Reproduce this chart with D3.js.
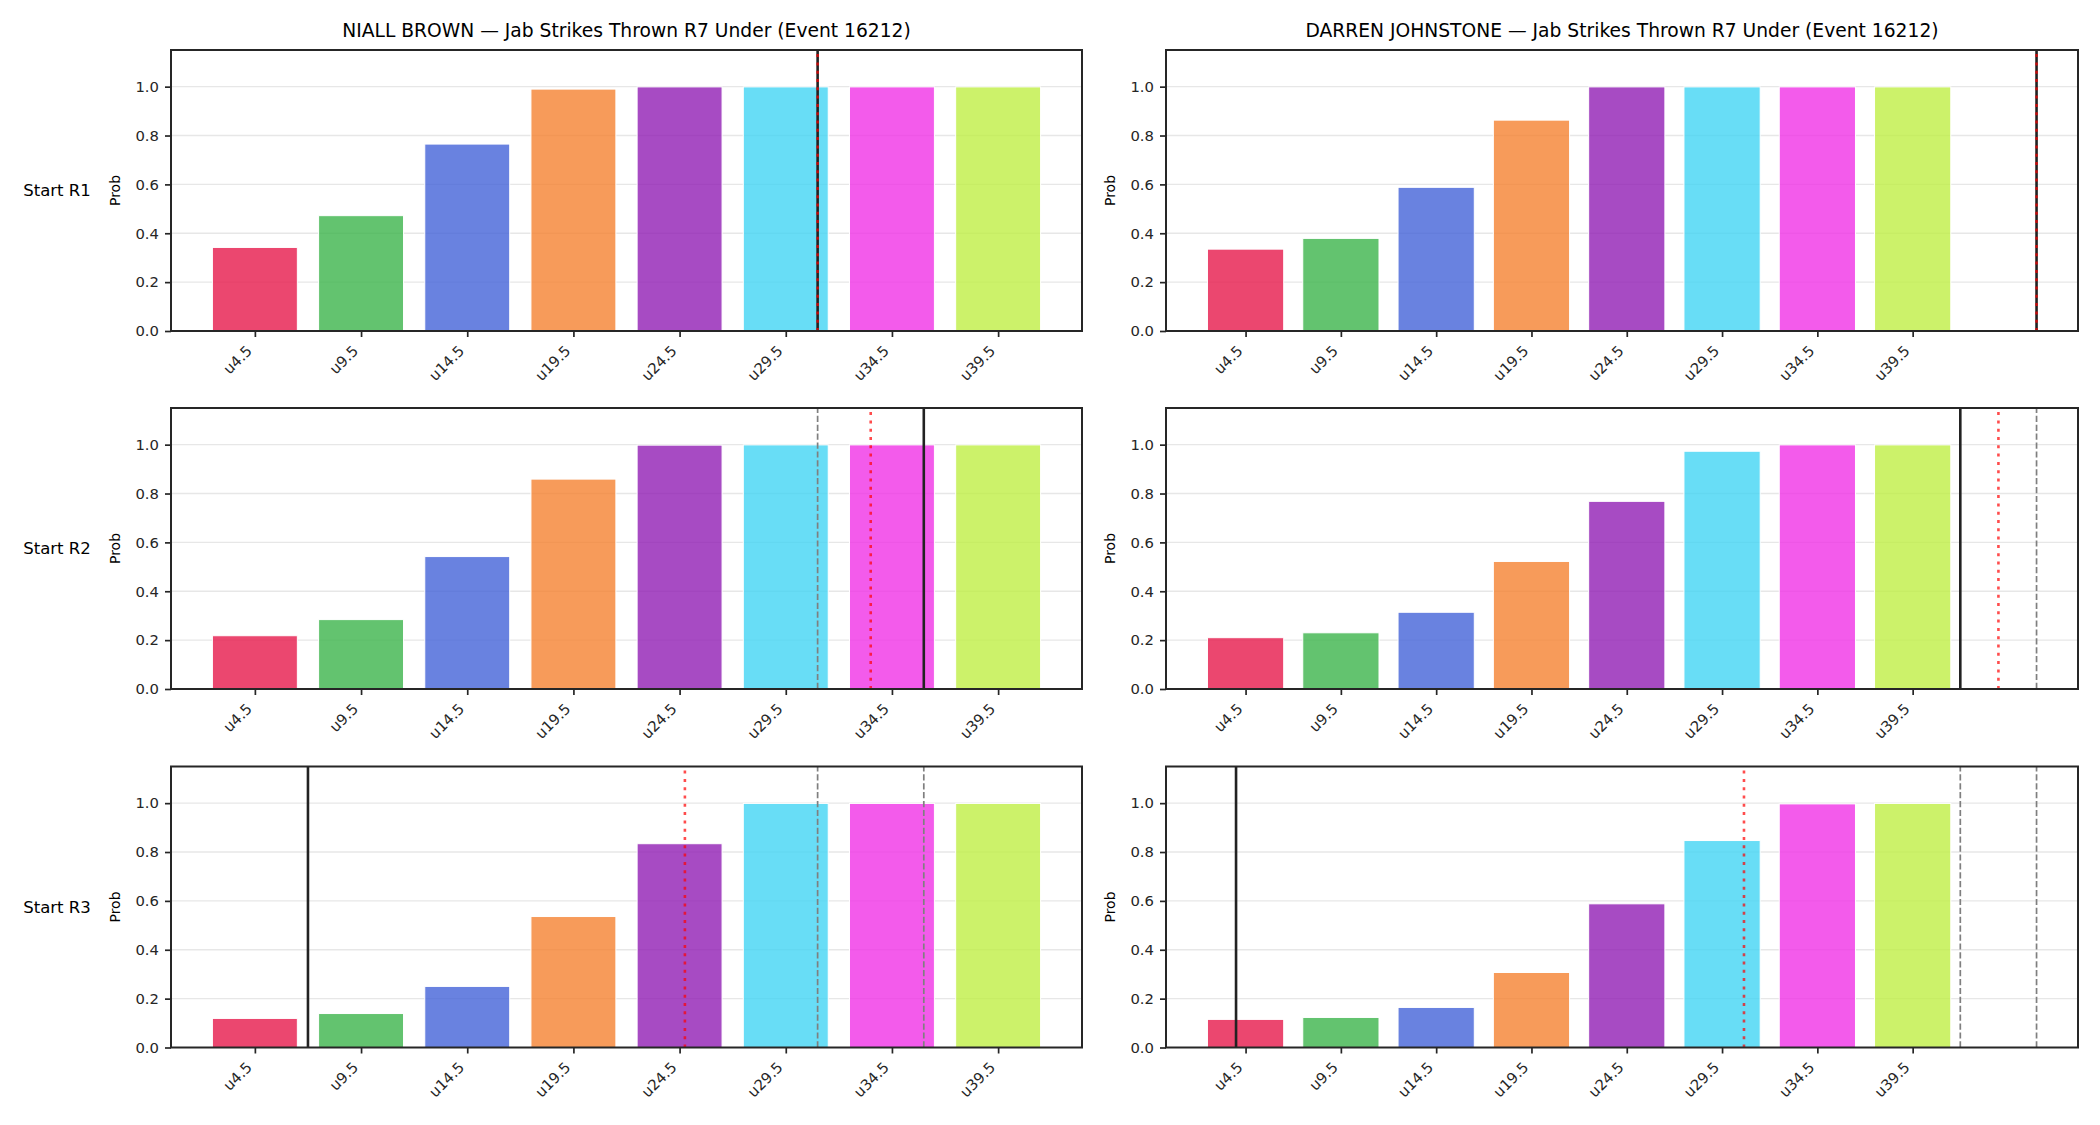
<!DOCTYPE html>
<html lang="en">
<head>
    <meta charset="UTF-8">
    <title>Jab Strikes Thrown R7 Under</title>
    <style>
        body { margin: 0; background: #fff; }
        text { font-family: 'DejaVu Sans', sans-serif; }
    </style>
</head>
<body>
    <svg id="svg" width="2100" height="1125"></svg>

    <script src="https://d3js.org/d3.v7.min.js"></script>
    <script>
        // data
        const thresholds = ['u4.5', 'u9.5', 'u14.5', 'u19.5', 'u24.5', 'u29.5', 'u34.5', 'u39.5']
        const thresholdValues = [4.5, 9.5, 14.5, 19.5, 24.5, 29.5, 34.5, 39.5]
        const fighters = ['NIALL BROWN', 'DARREN JOHNSTONE']
        const rounds = ['Start R1', 'Start R2', 'Start R3']
        const barColors = ['#e6194b', '#3cb44b', '#4363d8', '#f58231', '#911eb4', '#42d4f4', '#f032e6', '#bfef45']

        // P(under) for each start round
        const brownR1 = [0.342, 0.472, 0.765, 0.990, 0.999, 0.999, 0.999, 0.999]
        const brownR2 = [0.218, 0.284, 0.542, 0.859, 0.998, 0.999, 0.999, 0.999]
        const brownR3 = [0.119, 0.139, 0.250, 0.536, 0.834, 0.999, 0.999, 0.999]
        const johnstoneR1 = [0.335, 0.379, 0.588, 0.863, 0.999, 0.999, 0.999, 0.999]
        const johnstoneR2 = [0.210, 0.230, 0.314, 0.522, 0.768, 0.973, 0.999, 0.999]
        const johnstoneR3 = [0.115, 0.123, 0.164, 0.307, 0.588, 0.847, 0.997, 0.999]

        // reference lines (strike counts): solid = line at that start, dotted = projected mean
        const brownSolid = [31, 36, 7]
        const brownDotted = [31, 33.5, 24.75]
        const johnstoneSolid = [46, 42, 4]
        const johnstoneDotted = [46, 44, 30.65]

        const panels = [
            { fighter: 0, probs: [brownR1, brownR2, brownR3], solid: brownSolid, dotted: brownDotted },
            { fighter: 1, probs: [johnstoneR1, johnstoneR2, johnstoneR3], solid: johnstoneSolid, dotted: johnstoneDotted }
        ]

        // layout
        const colX = [[171, 1082], [1166, 2078]]
        const rowY = [50, 408, 766.5]
        const axH = 281
        const tickFont = 14.8

        const svg = d3.select('#svg')
        // strike count -> bar index position
        const countToIndex = d3.scaleLinear().domain([thresholdValues[0], thresholdValues[7]]).range([0, 7])

        panels.forEach((p, c) => {
            const [x0, x1] = colX[c]
            // column title
            svg.append('text')
                .text(`${fighters[p.fighter]} \u2014 Jab Strikes Thrown R7 Under (Event 16212)`)
                .attr('x', (x0 + x1) / 2)
                .attr('y', 37)
                .attr('text-anchor', 'middle')
                .style('font-size', '18.7px')
                .attr('fill', '#000')

            rounds.forEach((rLabel, r) => {
                const y0 = rowY[r]
                const probs = p.probs[r]
                const dashed = p.solid.slice(0, r)
                const lineIdx = [p.solid[r], p.dotted[r], ...dashed].map(countToIndex)
                const lo = Math.min(-0.4, ...lineIdx)
                const hi = Math.max(7.4, ...lineIdx)
                const pad = (hi - lo) * 0.05
                const xScale = d3.scaleLinear().domain([lo - pad, hi + pad]).range([x0, x1])
                const yScale = d3.scaleLinear().domain([0, 1.15]).range([y0 + axH, y0])
                const g = svg.append('g')

                // grid
                g.selectAll('line.grid')
                    .data([0.2, 0.4, 0.6, 0.8, 1.0])
                    .enter()
                    .append('line')
                    .attr('x1', x0).attr('x2', x1)
                    .attr('y1', d => yScale(d)).attr('y2', d => yScale(d))
                    .attr('stroke', '#b0b0b0')
                    .attr('stroke-opacity', 0.3)
                    .attr('stroke-width', 1.4)

                // bars
                g.selectAll('rect.bar')
                    .data(probs)
                    .enter()
                    .append('rect')
                    .attr('x', (d, i) => xScale(i - 0.4))
                    .attr('width', xScale(0.8) - xScale(0))
                    .attr('y', d => yScale(d))
                    .attr('height', d => yScale(0) - yScale(d))
                    .attr('fill', (d, i) => barColors[i])
                    .attr('fill-opacity', 0.8)
                    .attr('stroke', '#fff')
                    .attr('stroke-width', 1)

                // previous lines
                dashed.forEach(v => {
                    g.append('line')
                        .attr('x1', xScale(countToIndex(v))).attr('x2', xScale(countToIndex(v)))
                        .attr('y1', y0 + axH).attr('y2', y0)
                        .attr('stroke', '#7f7f7f')
                        .attr('stroke-width', 1.7)
                        .attr('stroke-dasharray', '6.2,2.7')
                })
                // current line
                g.append('line')
                    .attr('x1', xScale(countToIndex(p.solid[r]))).attr('x2', xScale(countToIndex(p.solid[r])))
                    .attr('y1', y0 + axH).attr('y2', y0)
                    .attr('stroke', '#222')
                    .attr('stroke-width', 2.6)
                // projected
                g.append('line')
                    .attr('x1', xScale(countToIndex(p.dotted[r]))).attr('x2', xScale(countToIndex(p.dotted[r])))
                    .attr('y1', y0 + axH).attr('y2', y0 + 4)
                    .attr('stroke', '#ff0000')
                    .attr('stroke-opacity', 0.7)
                    .attr('stroke-width', 2.6)
                    .attr('stroke-dasharray', '3,5.3')

                // frame
                g.append('rect')
                    .attr('x', x0).attr('y', y0)
                    .attr('width', x1 - x0).attr('height', axH)
                    .attr('fill', 'none')
                    .attr('stroke', '#262626')
                    .attr('stroke-width', 2)

                // y axis
                const yAxis = g.append('g')
                    .attr('transform', `translate(${x0},0)`)
                    .call(d3.axisLeft(yScale).tickValues([0, 0.2, 0.4, 0.6, 0.8, 1.0])
                        .tickFormat(d3.format('.1f')).tickSize(6).tickSizeOuter(0).tickPadding(6))
                yAxis.select('.domain').remove()
                yAxis.selectAll('line').attr('stroke', '#262626').attr('stroke-width', 1.7)
                yAxis.selectAll('text').style('font-size', tickFont + 'px').attr('fill', '#262626')
                    .style('font-family', "'DejaVu Sans', sans-serif")

                // x axis
                const xAxis = g.append('g')
                    .attr('transform', `translate(0,${y0 + axH})`)
                    .call(d3.axisBottom(xScale).tickValues(d3.range(8))
                        .tickFormat(i => thresholds[i]).tickSize(6).tickSizeOuter(0))
                xAxis.select('.domain').remove()
                xAxis.selectAll('line').attr('stroke', '#262626').attr('stroke-width', 1.7)
                xAxis.selectAll('text')
                    .attr('y', null)
                    .attr('dy', '-0.24em')
                    .attr('text-anchor', 'end')
                    .attr('transform', `translate(0,${11 + 0.707 * 1.17 * tickFont}) rotate(-45)`)
                    .style('font-size', tickFont + 'px')
                    .style('font-family', "'DejaVu Sans', sans-serif")
                    .attr('fill', '#262626')

                // y label
                g.append('text')
                    .text('Prob')
                    .attr('transform', `translate(${x0 - 51},${y0 + axH / 2}) rotate(-90)`)
                    .attr('text-anchor', 'middle')
                    .style('font-size', '14px')
                    .attr('fill', '#000')

                // row label
                if (c === 0) {
                    svg.append('text')
                        .text(rLabel)
                        .attr('x', 57)
                        .attr('y', y0 + axH / 2)
                        .attr('dominant-baseline', 'central')
                        .attr('text-anchor', 'middle')
                        .style('font-size', '16.5px')
                        .attr('fill', '#000')
                }
            })
        })
    </script>
</body>
</html>
